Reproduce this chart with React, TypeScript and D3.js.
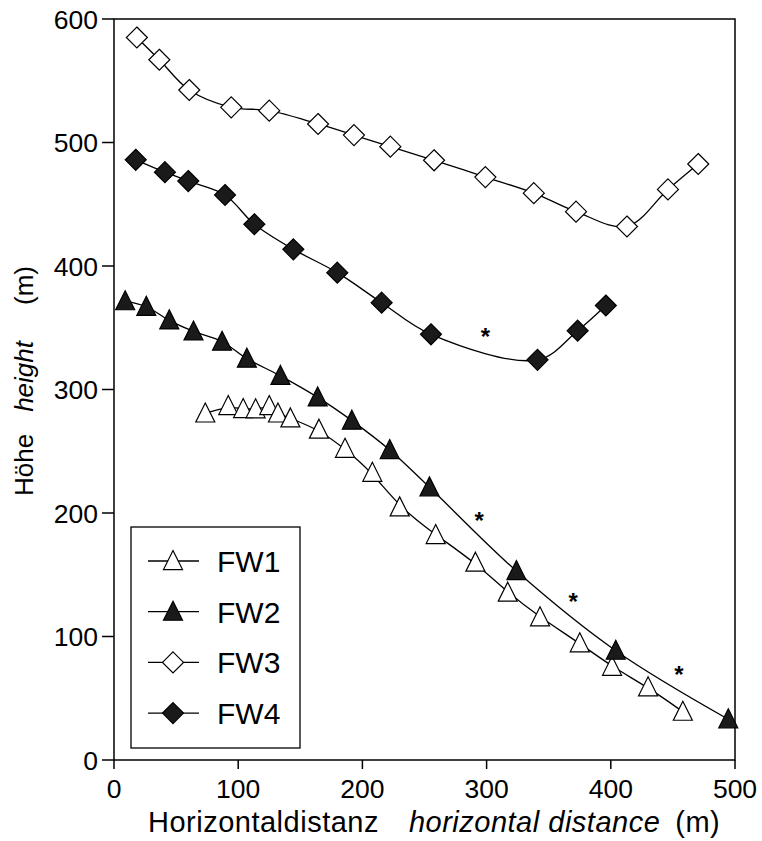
import React from "react";
import * as d3 from "d3";

const fw1X = [73.5, 92, 104, 114, 125, 132, 142, 165, 186, 208, 230, 259, 291, 317, 343, 375, 401, 430, 458];
const fw1Y = [280.6, 286.6, 284.2, 284, 286.6, 280.6, 276.6, 267.5, 252, 232.6, 204.6, 182.2, 159.8, 135.5, 115.6, 94.5, 75.5, 58.9, 39.1];

const fw2X = [9, 26, 44.5, 64, 87, 107, 134, 164, 191.5, 222, 254, 324, 404, 494.6];
const fw2Y = [371.5, 367, 356, 347, 338.7, 325, 311, 293.6, 274.8, 251, 220.8, 153, 88.5, 33];

const fw3X = [18.4, 36.5, 60.6, 94.4, 125, 164.3, 193.2, 222.5, 257.7, 299, 338, 372, 413, 446, 470.4];
const fw3Y = [585, 567, 542.5, 528.5, 525.8, 515, 506, 496.6, 485.6, 472, 459, 444, 432, 462, 482.6];

const fw4X = [17.5, 41, 59.8, 89.4, 113, 144.4, 179.8, 215.5, 255.2, 341, 373.3, 396];
const fw4Y = [486, 476, 468.8, 457.5, 433.8, 413.5, 394.6, 370.3, 344.7, 324, 347.6, 368];

const starX = [299, 294, 369.8, 454.9];
const starY = [345, 195.6, 130.4, 71.5];

const xTicks = [0, 100, 200, 300, 400, 500];
const yTicks = [0, 100, 200, 300, 400, 500, 600];
const seriesNames = ["FW1", "FW2", "FW3", "FW4"];

const W = 762;
const H = 841;
const left = 114;
const right = 735;
const top = 19;
const bottom = 760;

const x = d3.scaleLinear().domain([0, 500]).range([left, right]);
const y = d3.scaleLinear().domain([0, 600]).range([bottom, top]);

type Kind = "triOpen" | "triFilled" | "diaOpen" | "diaFilled";
const kinds: Kind[] = ["triOpen", "triFilled", "diaOpen", "diaFilled"];
const FILL_DARK = "#1a1a1a";

function Marker({ cx, cy, kind }: { cx: number; cy: number; kind: Kind }) {
  const filled = kind === "triFilled" || kind === "diaFilled";
  const fill = filled ? FILL_DARK : "#fff";
  if (kind === "triOpen" || kind === "triFilled") {
    const h = 19;
    const w = 19;
    const d = `M${cx},${cy - h * 0.55} L${cx + w / 2},${cy + h * 0.45} L${cx - w / 2},${cy + h * 0.45} Z`;
    return <path d={d} fill={fill} stroke="#000" strokeWidth={1.2} strokeLinejoin="miter" />;
  }
  const r = 10.5;
  const d = `M${cx},${cy - r} L${cx + r},${cy} L${cx},${cy + r} L${cx - r},${cy} Z`;
  return <path d={d} fill={fill} stroke="#000" strokeWidth={1.2} />;
}

const series = [
  { xs: fw1X, ys: fw1Y, curve: d3.curveBasis },
  { xs: fw2X, ys: fw2Y, curve: d3.curveCatmullRom.alpha(0.5) },
  { xs: fw3X, ys: fw3Y, curve: d3.curveCatmullRom.alpha(0.5) },
  { xs: fw4X, ys: fw4Y, curve: d3.curveCatmullRom.alpha(0.5) },
];

const FONT = "'Liberation Sans', Arial, Helvetica, sans-serif";

export default function App() {
  const lineGen = (curve: any) =>
    d3
      .line<[number, number]>()
      .x((d) => x(d[0]))
      .y((d) => y(d[1]))
      .curve(curve);

  return (
    <svg
      width={W}
      height={H}
      style={{ position: "absolute", left: 0, top: 0, background: "#fff" }}
      fontFamily={FONT}
    >
      <rect x={0} y={0} width={W} height={H} fill="#fff" />
      {/* frame */}
      <rect x={left} y={top} width={right - left} height={bottom - top} fill="none" stroke="#000" strokeWidth={1.5} />
      {/* y ticks */}
      {yTicks.map((t) => (
        <g key={"yt" + t}>
          <line x1={left - 12} x2={left} y1={y(t)} y2={y(t)} stroke="#000" strokeWidth={1.5} />
          <text x={98} y={y(t) + 9.5} textAnchor="end" fontSize={26.5} fill="#000">
            {t}
          </text>
        </g>
      ))}
      {/* x ticks */}
      {xTicks.map((t) => (
        <g key={"xt" + t}>
          <line x1={x(t)} x2={x(t)} y1={bottom} y2={bottom + 9} stroke="#000" strokeWidth={1.5} />
          <text x={x(t)} y={798} textAnchor="middle" fontSize={26.5} fill="#000">
            {t}
          </text>
        </g>
      ))}
      {/* axis titles */}
      <text x={148} y={832} fontSize={29} fill="#000" letterSpacing={0.5}>
        <tspan>Horizontaldistanz</tspan>
        <tspan dx={30} fontStyle="italic">horizontal distance</tspan>
        <tspan dx={15}>(m)</tspan>
      </text>
      <text transform={`translate(33,496) rotate(-90)`} fontSize={26} fill="#000">
        <tspan>Höhe</tspan>
        <tspan dx={22} fontStyle="italic">height</tspan>
        <tspan dx={36}>(m)</tspan>
      </text>

      {/* lines */}
      {series.map((s, i) => (
        <path
          key={"l" + i}
          d={lineGen(s.curve)(s.xs.map((v, j) => [v, s.ys[j]] as [number, number])) || ""}
          fill="none"
          stroke="#000"
          strokeWidth={1.3}
        />
      ))}
      {/* markers */}
      {series.map((s, i) => (
        <g key={"m" + i}>
          {s.xs.map((v, j) => (
            <Marker key={j} cx={x(v)} cy={y(s.ys[j])} kind={kinds[i]} />
          ))}
        </g>
      ))}
      {/* stars */}
      {starX.map((v, j) => (
        <text key={"s" + j} x={x(v)} y={y(starY[j]) + 11} textAnchor="middle" fontSize={24} fontWeight="bold" fill="#000">
          *
        </text>
      ))}

      {/* legend */}
      <rect x={131} y={527} width={169} height={221} fill="#fff" stroke="#000" strokeWidth={1.3} />
      {seriesNames.map((n, i) => {
        const ly = 561 + i * 50.7;
        return (
          <g key={"lg" + n}>
            <line x1={148} x2={199} y1={ly} y2={ly} stroke="#000" strokeWidth={1.3} />
            <Marker cx={173} cy={ly} kind={kinds[i]} />
            <text x={217} y={ly + 11} fontSize={30} fill="#000">
              {n}
            </text>
          </g>
        );
      })}
    </svg>
  );
}
